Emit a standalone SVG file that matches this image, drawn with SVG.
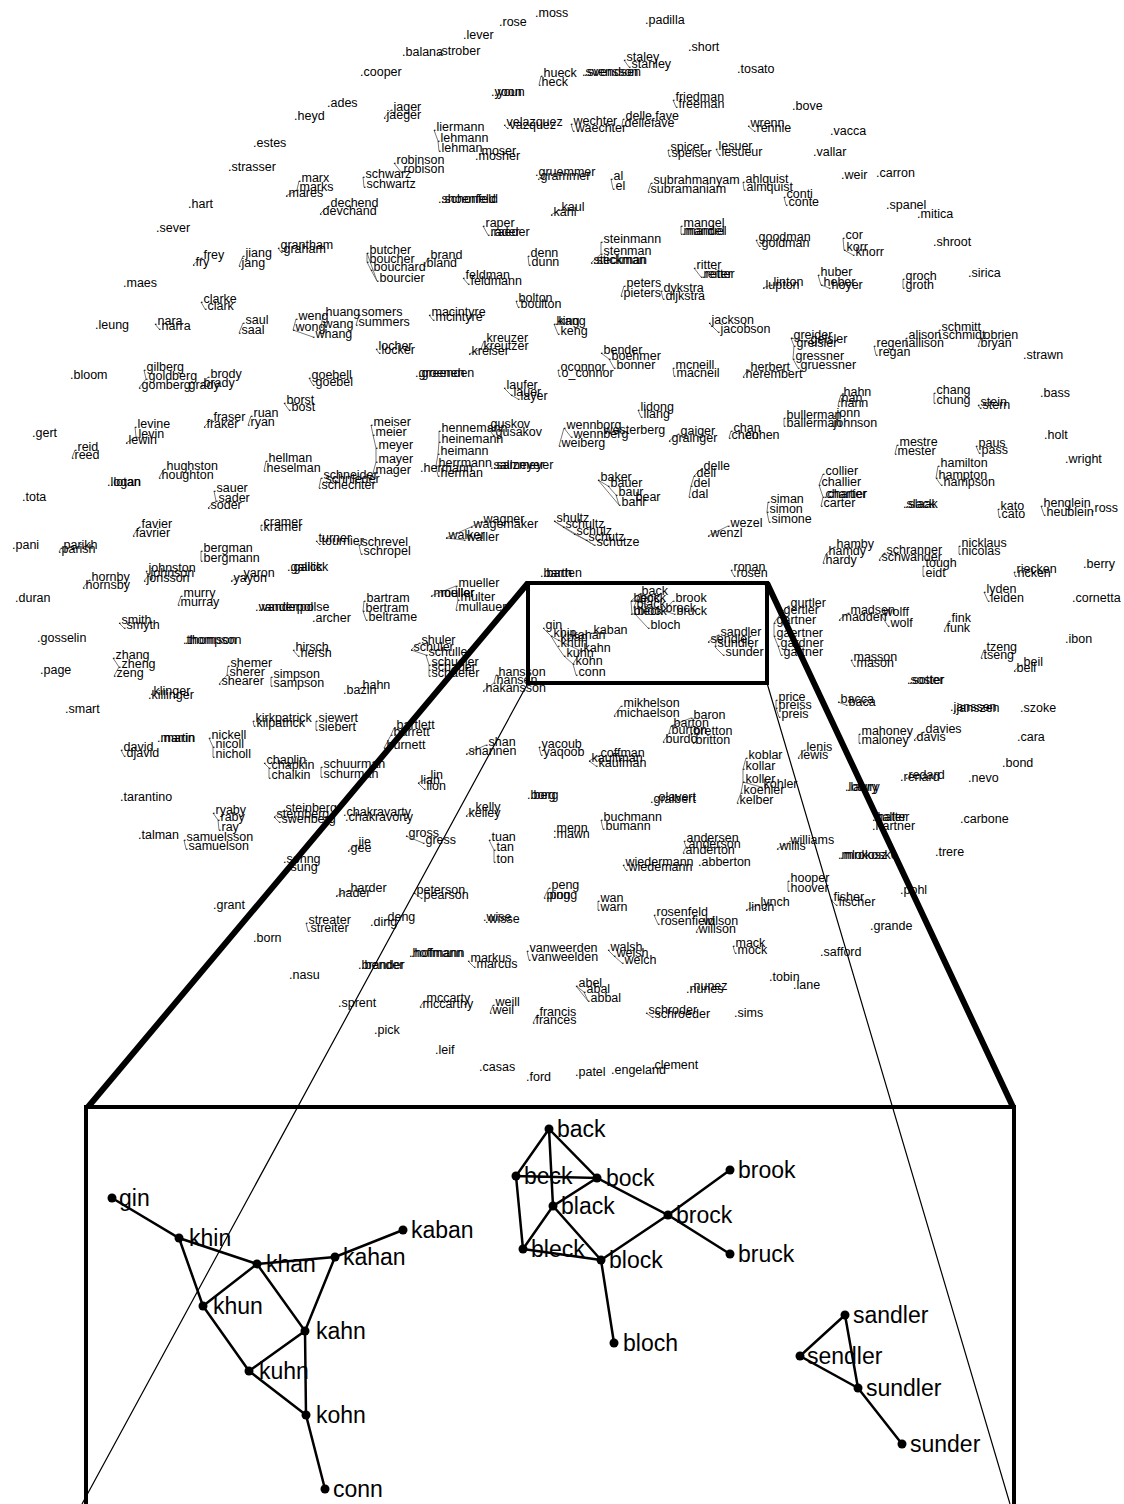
<svg xmlns="http://www.w3.org/2000/svg" width="1124" height="1504" viewBox="0 0 1124 1504">
<style>
.t{font-family:"Liberation Sans",Arial,Helvetica,sans-serif;font-size:12.5px;fill:#000}
.L{font-family:"Liberation Sans",Arial,Helvetica,sans-serif;font-size:23px;fill:#000}
.e{stroke:#555;stroke-width:0.8;fill:none}
.ie{stroke:#000;stroke-width:2.5;fill:none}
.fr{stroke:#000;stroke-width:4;fill:none}
.th{stroke:#000;stroke-width:6;fill:none}
.tn{stroke:#000;stroke-width:1.2;fill:none}
</style>
<rect width="1124" height="1504" fill="#fff"/>
<g id="connectors">
<path class="e" d="M541 76L539 85M624 60L629 67M673 100L676 107M391 110L384 118M434 130L438 141L439 151M394 163L401 172M363 177L364 187M299 181L297 190L286 196M328 206L320 214M483 226L488 235M504 125L507 128M571 124L573 131M623 119L622 126M748 126L754 131M668 150L669 156M716 149L719 155M611 179L613 189M651 183L648 192M743 182L744 190M784 197L786 205M681 226L681 234M559 210L551 215M601 242L601 254L591 263M694 268L701 277M756 240L759 246M843 238L844 250L853 255M818 275L821 285L829 288M903 279L903 288M771 285L763 288M463 278L468 284M624 286L621 296M661 291L663 299M516 301L518 307M528 256L529 265M428 258L424 266M367 253L367 262L371 270L377 281M367 253L377 281M278 248L281 252M243 256L239 266M201 258L193 265M201 302L205 309M155 324L159 329M243 323L239 333M296 319L293 330L313 337M323 315L321 327M359 315L356 325M429 315L433 320M554 324L558 334M709 323L718 332M791 338L794 346L793 359L798 368M791 338L808 342M874 346L876 355M906 338L906 346M939 330L940 338M981 338L978 346M748 370L743 377M484 341L481 349L469 354M376 349L379 353M601 353L609 359L614 368M558 370L559 376M673 368L674 376M504 388L511 395L518 399M638 410L641 417M144 370L146 379L139 388M208 377L201 386M309 378L313 385M284 403L289 410M841 395L839 401L838 406M934 393L934 403M978 405L980 408M784 418L784 426M211 420L204 427M251 416L248 425M135 427L136 437L126 443M75 450L72 458M371 425L373 435L376 448L376 462L373 473M439 431L439 442L438 454L436 466L438 476M488 427L493 435M564 428L571 437M564 428L559 446M678 434L669 441M731 431L729 438M897 445L895 454M976 446L979 453M266 461L264 471M164 469L159 478M701 469L694 476L691 486L689 497M938 466L936 478L941 485M823 474L819 485L823 497L821 506M598 480L608 486L616 495L619 505M598 480L619 505M768 502L767 512L769 522M998 509L999 517M1041 506L1044 515M214 491L216 501L208 508M321 478L319 488M554 521L563 527L574 534L586 540L594 545M554 521L594 545M481 522L471 527L446 538L464 540M728 526L708 536M139 527L133 536M261 525L261 530M316 541L319 544M359 545L361 554M834 547L826 554L823 563M959 546L959 554M61 548L59 552M201 551L201 561M884 553L879 560M923 566L923 576M146 571L148 576L144 581M241 576L231 581M731 570L734 576M1014 572L1015 576M89 580L83 588M456 586L458 600L456 610M431 596L456 586M181 596L178 605M364 601L363 611L366 620M984 592L988 601M788 606L781 613L774 623L774 636L778 646L781 655M848 613L839 620M881 615L888 626M949 621L944 631M119 623L124 628M293 650L298 656M419 643L411 650L426 655L429 665L429 670L429 676M984 650L981 658M113 658L119 667L114 676M851 660L854 666M1021 665L1014 671M228 666L227 675L219 684M496 675L494 683L483 691M271 677L271 686M776 700L776 708L779 717M838 702L846 705M621 706L614 716M691 718L671 726L669 733L663 742M691 734L693 743M253 721L254 726M316 721L316 730M394 728L391 735L384 748M859 734L859 743M923 732L914 740M486 745L466 754M539 747L541 755M598 756L589 761L596 766M804 750L798 758M746 758L743 769L743 782L761 787M743 782L741 793L737 803M209 738L213 747L213 757M121 750L124 756M264 763L269 768L269 778M321 767L321 777M428 778L418 783L424 789M213 813L218 820L219 830M283 811L274 817L279 822M473 810L466 816M601 820L603 829M406 836L423 843M489 840L494 850L494 862M184 840L186 849M684 841L686 847L683 853M788 843L777 849M356 845L348 851M623 865L626 870M788 881L788 891M348 891L336 896M549 888L544 898M414 893L421 898M598 901L598 910M758 905L746 910M831 900L836 905M654 915L658 924M701 924L696 932M306 923L308 931M733 946L735 953M527 951L529 960M608 950L614 956L622 963M468 961L474 967M576 986L584 992L588 1001M576 986L588 1001M424 1001L420 1007M493 1005L490 1013M537 1015L533 1023M646 1013L652 1017M543 628L551 636L558 640M551 636L557 646L564 656L573 664L576 675M558 640L581 651L573 664M639 594L631 601L632 614L635 614M639 594L634 607L635 614M631 601L637 601L664 611L673 601M664 611L674 614M635 614L648 628M708 642L718 635L715 647L723 655"/>
<path class="th" d="M528 583L88 1107M767 583L1013 1107"/>
<path class="tn" d="M528 683L82 1504M767 683L1010 1504"/>
<path class="fr" d="M528 583H767V683H528Z"/>
<path class="fr" d="M86 1520V1107H1014V1520"/>
<path class="ie" d="M112 1198L179 1238L257 1264L335 1257L403 1230M179 1238L203 1306L257 1264L305 1331L335 1257M203 1306L249 1371L305 1331L306 1415L325 1489M249 1371L306 1415M549 1129L516 1176L597 1178L549 1129L553 1206L597 1178L668 1215L730 1170M516 1176L523 1249L553 1206L601 1260L523 1249M601 1260L668 1215L730 1254M601 1260L614 1343M845 1315L800 1356L858 1388L845 1315M858 1388L902 1444"/>
</g>
<g id="scatter">
<text class="t" x="535" y="17">.moss</text>
<text class="t" x="499" y="26">.rose</text>
<text class="t" x="463" y="39">.lever</text>
<text class="t" x="402" y="56">.balana</text>
<text class="t" x="438" y="55">.strober</text>
<text class="t" x="360" y="76">.cooper</text>
<text class="t" x="540" y="77">.hueck</text>
<text class="t" x="538" y="86">.heck</text>
<text class="t" x="582" y="76">.svensson</text>
<text class="t" x="584" y="76">.svendsen</text>
<text class="t" x="491" y="96">.yoon</text>
<text class="t" x="494" y="96">.youn</text>
<text class="t" x="645" y="24">.padilla</text>
<text class="t" x="688" y="51">.short</text>
<text class="t" x="623" y="61">.staley</text>
<text class="t" x="628" y="68">.stanley</text>
<text class="t" x="737" y="73">.tosato</text>
<text class="t" x="672" y="101">.friedman</text>
<text class="t" x="675" y="108">.freeman</text>
<text class="t" x="792" y="110">.bove</text>
<text class="t" x="327" y="107">.ades</text>
<text class="t" x="294" y="120">.heyd</text>
<text class="t" x="390" y="111">.jager</text>
<text class="t" x="383" y="119">.jaeger</text>
<text class="t" x="253" y="147">.estes</text>
<text class="t" x="433" y="131">.liermann</text>
<text class="t" x="437" y="142">.lehmann</text>
<text class="t" x="438" y="152">.lehman</text>
<text class="t" x="478" y="155">.moser</text>
<text class="t" x="475" y="160">.mosher</text>
<text class="t" x="503" y="126">.velazquez</text>
<text class="t" x="506" y="129">.vazquez</text>
<text class="t" x="570" y="125">.wechter</text>
<text class="t" x="572" y="132">.waechter</text>
<text class="t" x="622" y="120">.delle fave</text>
<text class="t" x="621" y="127">.dellefave</text>
<text class="t" x="747" y="127">.wrenn</text>
<text class="t" x="753" y="132">.rennie</text>
<text class="t" x="830" y="135">.vacca</text>
<text class="t" x="667" y="151">.spicer</text>
<text class="t" x="668" y="157">.speiser</text>
<text class="t" x="715" y="150">.lesuer</text>
<text class="t" x="718" y="156">.lesueur</text>
<text class="t" x="813" y="156">.vallar</text>
<text class="t" x="228" y="171">.strasser</text>
<text class="t" x="393" y="164">.robinson</text>
<text class="t" x="400" y="173">.robison</text>
<text class="t" x="362" y="178">.schwarz</text>
<text class="t" x="363" y="188">.schwartz</text>
<text class="t" x="298" y="182">.marx</text>
<text class="t" x="296" y="191">.marks</text>
<text class="t" x="285" y="197">.mares</text>
<text class="t" x="535" y="176">.gruemmer</text>
<text class="t" x="537" y="180">.grammer</text>
<text class="t" x="610" y="180">.al</text>
<text class="t" x="612" y="190">.el</text>
<text class="t" x="650" y="184">.subrahmanyam</text>
<text class="t" x="647" y="193">.subramaniam</text>
<text class="t" x="742" y="183">.ahlquist</text>
<text class="t" x="743" y="191">.almquist</text>
<text class="t" x="841" y="179">.weir</text>
<text class="t" x="876" y="177">.carron</text>
<text class="t" x="783" y="198">.conti</text>
<text class="t" x="785" y="206">.conte</text>
<text class="t" x="327" y="207">.dechend</text>
<text class="t" x="319" y="215">.devchand</text>
<text class="t" x="438" y="203">.shoenfeld</text>
<text class="t" x="441" y="203">.schonfeld</text>
<text class="t" x="558" y="211">.kaul</text>
<text class="t" x="550" y="216">.kahl</text>
<text class="t" x="188" y="208">.hart</text>
<text class="t" x="886" y="209">.spanel</text>
<text class="t" x="917" y="218">.mitica</text>
<text class="t" x="482" y="227">.raper</text>
<text class="t" x="487" y="236">.rader</text>
<text class="t" x="490" y="236">.raeder</text>
<text class="t" x="680" y="227">.mangel</text>
<text class="t" x="680" y="235">.mandel</text>
<text class="t" x="682" y="235">.manuel</text>
<text class="t" x="156" y="232">.sever</text>
<text class="t" x="600" y="243">.steinmann</text>
<text class="t" x="600" y="255">.stenman</text>
<text class="t" x="590" y="264">.steckman</text>
<text class="t" x="593" y="264">.stickman</text>
<text class="t" x="755" y="241">.goodman</text>
<text class="t" x="758" y="247">.goldman</text>
<text class="t" x="842" y="239">.cor</text>
<text class="t" x="843" y="251">.korr</text>
<text class="t" x="852" y="256">.knorr</text>
<text class="t" x="933" y="246">.shroot</text>
<text class="t" x="277" y="249">.grantham</text>
<text class="t" x="280" y="253">.graham</text>
<text class="t" x="242" y="257">.jiang</text>
<text class="t" x="238" y="267">.jang</text>
<text class="t" x="200" y="259">.frey</text>
<text class="t" x="192" y="266">.fry</text>
<text class="t" x="366" y="254">.butcher</text>
<text class="t" x="366" y="263">.boucher</text>
<text class="t" x="370" y="271">.bouchard</text>
<text class="t" x="376" y="282">.bourcier</text>
<text class="t" x="427" y="259">.brand</text>
<text class="t" x="423" y="267">.bland</text>
<text class="t" x="527" y="257">.denn</text>
<text class="t" x="528" y="266">.dunn</text>
<text class="t" x="693" y="269">.ritter</text>
<text class="t" x="700" y="278">.reiter</text>
<text class="t" x="702" y="278">.retter</text>
<text class="t" x="817" y="276">.huber</text>
<text class="t" x="820" y="286">.heber</text>
<text class="t" x="828" y="289">.hoyer</text>
<text class="t" x="902" y="280">.groch</text>
<text class="t" x="902" y="289">.groth</text>
<text class="t" x="968" y="277">.sirica</text>
<text class="t" x="123" y="287">.maes</text>
<text class="t" x="770" y="286">.linton</text>
<text class="t" x="762" y="289">.lupton</text>
<text class="t" x="462" y="279">.feldman</text>
<text class="t" x="467" y="285">.feldmann</text>
<text class="t" x="623" y="287">.peters</text>
<text class="t" x="620" y="297">.pieters</text>
<text class="t" x="660" y="292">.dykstra</text>
<text class="t" x="662" y="300">.dijkstra</text>
<text class="t" x="515" y="302">.bolton</text>
<text class="t" x="517" y="308">.boulton</text>
<text class="t" x="200" y="303">.clarke</text>
<text class="t" x="204" y="310">.clark</text>
<text class="t" x="95" y="329">.leung</text>
<text class="t" x="154" y="325">.nara</text>
<text class="t" x="158" y="330">.narra</text>
<text class="t" x="242" y="324">.saul</text>
<text class="t" x="238" y="334">.saal</text>
<text class="t" x="322" y="316">.huang</text>
<text class="t" x="358" y="316">.somers</text>
<text class="t" x="355" y="326">.summers</text>
<text class="t" x="295" y="320">.weng</text>
<text class="t" x="292" y="331">.wong</text>
<text class="t" x="320" y="328">.wang</text>
<text class="t" x="312" y="338">.whang</text>
<text class="t" x="428" y="316">.macintyre</text>
<text class="t" x="432" y="321">.mcintyre</text>
<text class="t" x="553" y="325">.king</text>
<text class="t" x="555" y="325">.kang</text>
<text class="t" x="557" y="335">.keng</text>
<text class="t" x="708" y="324">.jackson</text>
<text class="t" x="717" y="333">.jacobson</text>
<text class="t" x="938" y="331">.schmitt</text>
<text class="t" x="905" y="339">.alison</text>
<text class="t" x="939" y="339">.schmidt</text>
<text class="t" x="980" y="339">.obrien</text>
<text class="t" x="905" y="347">.allison</text>
<text class="t" x="977" y="347">.bryan</text>
<text class="t" x="873" y="347">.regen</text>
<text class="t" x="875" y="356">.regan</text>
<text class="t" x="790" y="339">.greider</text>
<text class="t" x="807" y="343">.geisler</text>
<text class="t" x="793" y="347">.greisler</text>
<text class="t" x="792" y="360">.gressner</text>
<text class="t" x="797" y="369">.gruessner</text>
<text class="t" x="483" y="342">.kreuzer</text>
<text class="t" x="480" y="350">.kreutzer</text>
<text class="t" x="468" y="355">.kreiser</text>
<text class="t" x="375" y="350">.locher</text>
<text class="t" x="378" y="354">.locker</text>
<text class="t" x="600" y="354">.bender</text>
<text class="t" x="608" y="360">.boehmer</text>
<text class="t" x="613" y="369">.bonner</text>
<text class="t" x="1023" y="359">.strawn</text>
<text class="t" x="557" y="371">.oconnor</text>
<text class="t" x="558" y="377">.o_connor</text>
<text class="t" x="672" y="369">.mcneill</text>
<text class="t" x="673" y="377">.macneil</text>
<text class="t" x="747" y="371">.herbert</text>
<text class="t" x="742" y="378">.herembert</text>
<text class="t" x="415" y="377">.groenen</text>
<text class="t" x="418" y="377">.greenden</text>
<text class="t" x="70" y="379">.bloom</text>
<text class="t" x="143" y="371">.gilberg</text>
<text class="t" x="145" y="380">.goldberg</text>
<text class="t" x="138" y="389">.gomberg</text>
<text class="t" x="185" y="389">.grady</text>
<text class="t" x="207" y="378">.brody</text>
<text class="t" x="200" y="387">.brady</text>
<text class="t" x="308" y="379">.goebell</text>
<text class="t" x="312" y="386">.goebel</text>
<text class="t" x="503" y="389">.laufer</text>
<text class="t" x="510" y="396">.lauer</text>
<text class="t" x="517" y="400">.layer</text>
<text class="t" x="840" y="396">.hahn</text>
<text class="t" x="838" y="402">.han</text>
<text class="t" x="837" y="407">.hann</text>
<text class="t" x="933" y="394">.chang</text>
<text class="t" x="933" y="404">.chung</text>
<text class="t" x="977" y="406">.stein</text>
<text class="t" x="979" y="409">.stern</text>
<text class="t" x="1040" y="397">.bass</text>
<text class="t" x="283" y="404">.borst</text>
<text class="t" x="288" y="411">.bost</text>
<text class="t" x="637" y="411">.lidong</text>
<text class="t" x="640" y="418">.liang</text>
<text class="t" x="783" y="419">.bullerman</text>
<text class="t" x="783" y="427">.ballerman</text>
<text class="t" x="833" y="417">.jonn</text>
<text class="t" x="830" y="427">.johnson</text>
<text class="t" x="210" y="421">.fraser</text>
<text class="t" x="203" y="428">.fraker</text>
<text class="t" x="250" y="417">.ruan</text>
<text class="t" x="247" y="426">.ryan</text>
<text class="t" x="370" y="426">.meiser</text>
<text class="t" x="372" y="436">.meier</text>
<text class="t" x="375" y="449">.meyer</text>
<text class="t" x="375" y="463">.mayer</text>
<text class="t" x="372" y="474">.mager</text>
<text class="t" x="438" y="432">.hennemann</text>
<text class="t" x="438" y="443">.heinemann</text>
<text class="t" x="437" y="455">.heimann</text>
<text class="t" x="435" y="467">.herrmann</text>
<text class="t" x="437" y="477">.herman</text>
<text class="t" x="420" y="472">.hermann</text>
<text class="t" x="487" y="428">.guskov</text>
<text class="t" x="492" y="436">.gusakov</text>
<text class="t" x="563" y="429">.wennborg</text>
<text class="t" x="570" y="438">.wennberg</text>
<text class="t" x="600" y="434">.westerberg</text>
<text class="t" x="558" y="447">.weiberg</text>
<text class="t" x="677" y="435">.gaiger</text>
<text class="t" x="668" y="442">.grainger</text>
<text class="t" x="730" y="432">.chan</text>
<text class="t" x="728" y="439">.chen</text>
<text class="t" x="742" y="439">.cohen</text>
<text class="t" x="134" y="428">.levine</text>
<text class="t" x="135" y="438">.levin</text>
<text class="t" x="125" y="444">.lewin</text>
<text class="t" x="32" y="437">.gert</text>
<text class="t" x="1044" y="439">.holt</text>
<text class="t" x="896" y="446">.mestre</text>
<text class="t" x="894" y="455">.mester</text>
<text class="t" x="975" y="447">.paus</text>
<text class="t" x="978" y="454">.pass</text>
<text class="t" x="74" y="451">.reid</text>
<text class="t" x="71" y="459">.reed</text>
<text class="t" x="1065" y="463">.wright</text>
<text class="t" x="265" y="462">.hellman</text>
<text class="t" x="263" y="472">.heselman</text>
<text class="t" x="163" y="470">.hughston</text>
<text class="t" x="158" y="479">.houghton</text>
<text class="t" x="490" y="469">.salmeyer</text>
<text class="t" x="493" y="469">.salzmeyer</text>
<text class="t" x="700" y="470">.delle</text>
<text class="t" x="693" y="477">.dell</text>
<text class="t" x="690" y="487">.del</text>
<text class="t" x="688" y="498">.dal</text>
<text class="t" x="937" y="467">.hamilton</text>
<text class="t" x="935" y="479">.hampton</text>
<text class="t" x="940" y="486">.hampson</text>
<text class="t" x="822" y="475">.collier</text>
<text class="t" x="818" y="486">.challier</text>
<text class="t" x="822" y="498">.chartier</text>
<text class="t" x="824" y="498">.charter</text>
<text class="t" x="820" y="507">.carter</text>
<text class="t" x="320" y="479">.schneider</text>
<text class="t" x="322" y="483">.schnieder</text>
<text class="t" x="318" y="489">.schechter</text>
<text class="t" x="107" y="486">.logan</text>
<text class="t" x="110" y="486">.lotan</text>
<text class="t" x="597" y="481">.baker</text>
<text class="t" x="607" y="487">.bauer</text>
<text class="t" x="615" y="496">.baur</text>
<text class="t" x="618" y="506">.bahr</text>
<text class="t" x="632" y="501">.bear</text>
<text class="t" x="213" y="492">.sauer</text>
<text class="t" x="215" y="502">.sader</text>
<text class="t" x="207" y="509">.soder</text>
<text class="t" x="22" y="501">.tota</text>
<text class="t" x="767" y="503">.siman</text>
<text class="t" x="766" y="513">.simon</text>
<text class="t" x="768" y="523">.simone</text>
<text class="t" x="903" y="508">.slack</text>
<text class="t" x="905" y="508">.slaak</text>
<text class="t" x="997" y="510">.kato</text>
<text class="t" x="998" y="518">.cato</text>
<text class="t" x="1040" y="507">.henglein</text>
<text class="t" x="1043" y="516">.heublein</text>
<text class="t" x="1091" y="512">.ross</text>
<text class="t" x="553" y="522">.shultz</text>
<text class="t" x="562" y="528">.schultz</text>
<text class="t" x="573" y="535">.schulz</text>
<text class="t" x="585" y="541">.schutz</text>
<text class="t" x="593" y="546">.schutze</text>
<text class="t" x="480" y="523">.wagner</text>
<text class="t" x="470" y="528">.wagemaker</text>
<text class="t" x="445" y="539">.walker</text>
<text class="t" x="463" y="541">.waller</text>
<text class="t" x="727" y="527">.wezel</text>
<text class="t" x="707" y="537">.wenzl</text>
<text class="t" x="138" y="528">.favier</text>
<text class="t" x="132" y="537">.favrier</text>
<text class="t" x="260" y="526">.cramer</text>
<text class="t" x="260" y="531">.kramer</text>
<text class="t" x="315" y="542">.turner</text>
<text class="t" x="318" y="545">.tournier</text>
<text class="t" x="358" y="546">.schrevel</text>
<text class="t" x="360" y="555">.schropel</text>
<text class="t" x="833" y="548">.hamby</text>
<text class="t" x="825" y="555">.hamdy</text>
<text class="t" x="822" y="564">.hardy</text>
<text class="t" x="958" y="547">.nicklaus</text>
<text class="t" x="958" y="555">.nicolas</text>
<text class="t" x="12" y="549">.pani</text>
<text class="t" x="60" y="549">.parikh</text>
<text class="t" x="58" y="553">.parish</text>
<text class="t" x="200" y="552">.bergman</text>
<text class="t" x="200" y="562">.bergmann</text>
<text class="t" x="883" y="554">.schranner</text>
<text class="t" x="878" y="561">.schwander</text>
<text class="t" x="922" y="567">.tough</text>
<text class="t" x="922" y="577">.eidt</text>
<text class="t" x="1083" y="568">.berry</text>
<text class="t" x="287" y="571">.galick</text>
<text class="t" x="290" y="571">.gallick</text>
<text class="t" x="145" y="572">.johnston</text>
<text class="t" x="147" y="577">.johnson</text>
<text class="t" x="143" y="582">.jonsson</text>
<text class="t" x="240" y="577">.yaron</text>
<text class="t" x="230" y="582">.yayon</text>
<text class="t" x="730" y="571">.ronan</text>
<text class="t" x="733" y="577">.rosen</text>
<text class="t" x="540" y="577">.barth</text>
<text class="t" x="543" y="577">.barten</text>
<text class="t" x="1013" y="573">.riecken</text>
<text class="t" x="1014" y="577">.ricken</text>
<text class="t" x="88" y="581">.hornby</text>
<text class="t" x="82" y="589">.hornsby</text>
<text class="t" x="455" y="587">.mueller</text>
<text class="t" x="430" y="597">.moeller</text>
<text class="t" x="437" y="597">.muller</text>
<text class="t" x="457" y="601">.multer</text>
<text class="t" x="455" y="611">.mullauer</text>
<text class="t" x="180" y="597">.murry</text>
<text class="t" x="177" y="606">.murray</text>
<text class="t" x="15" y="602">.duran</text>
<text class="t" x="363" y="602">.bartram</text>
<text class="t" x="362" y="612">.bertram</text>
<text class="t" x="365" y="621">.beltrame</text>
<text class="t" x="312" y="622">.archer</text>
<text class="t" x="983" y="593">.lyden</text>
<text class="t" x="987" y="602">.leiden</text>
<text class="t" x="1072" y="602">.cornetta</text>
<text class="t" x="787" y="607">.gurtler</text>
<text class="t" x="780" y="614">.gertler</text>
<text class="t" x="773" y="624">.gartner</text>
<text class="t" x="773" y="637">.gaertner</text>
<text class="t" x="777" y="647">.gardner</text>
<text class="t" x="780" y="656">.gartner</text>
<text class="t" x="255" y="611">.vanderpol</text>
<text class="t" x="258" y="611">.vanderpolse</text>
<text class="t" x="847" y="614">.madsen</text>
<text class="t" x="838" y="621">.madden</text>
<text class="t" x="880" y="616">.wolff</text>
<text class="t" x="887" y="627">.wolf</text>
<text class="t" x="948" y="622">.fink</text>
<text class="t" x="943" y="632">.funk</text>
<text class="t" x="118" y="624">.smith</text>
<text class="t" x="123" y="629">.smyth</text>
<text class="t" x="37" y="642">.gosselin</text>
<text class="t" x="183" y="644">.thompson</text>
<text class="t" x="185" y="644">.thomson</text>
<text class="t" x="1065" y="643">.ibon</text>
<text class="t" x="292" y="651">.hirsch</text>
<text class="t" x="297" y="657">.hersh</text>
<text class="t" x="418" y="644">.shuler</text>
<text class="t" x="410" y="651">.schuler</text>
<text class="t" x="425" y="656">.schuller</text>
<text class="t" x="428" y="666">.schueler</text>
<text class="t" x="428" y="671">.schauer</text>
<text class="t" x="428" y="677">.schaefer</text>
<text class="t" x="983" y="651">.tzeng</text>
<text class="t" x="980" y="659">.tseng</text>
<text class="t" x="112" y="659">.zhang</text>
<text class="t" x="118" y="668">.zheng</text>
<text class="t" x="113" y="677">.zeng</text>
<text class="t" x="850" y="661">.masson</text>
<text class="t" x="853" y="667">.mason</text>
<text class="t" x="1020" y="666">.beil</text>
<text class="t" x="1013" y="672">.bell</text>
<text class="t" x="227" y="667">.shemer</text>
<text class="t" x="226" y="676">.sherer</text>
<text class="t" x="218" y="685">.shearer</text>
<text class="t" x="40" y="674">.page</text>
<text class="t" x="495" y="676">.hansson</text>
<text class="t" x="493" y="684">.hansen</text>
<text class="t" x="482" y="692">.hakansson</text>
<text class="t" x="270" y="678">.simpson</text>
<text class="t" x="270" y="687">.sampson</text>
<text class="t" x="907" y="684">.soster</text>
<text class="t" x="909" y="684">.sotter</text>
<text class="t" x="359" y="689">.hahn</text>
<text class="t" x="343" y="694">.bazin</text>
<text class="t" x="150" y="695">.klinger</text>
<text class="t" x="148" y="699">.killinger</text>
<text class="t" x="775" y="701">.price</text>
<text class="t" x="775" y="709">.preiss</text>
<text class="t" x="778" y="718">.preis</text>
<text class="t" x="837" y="703">.bacca</text>
<text class="t" x="845" y="706">.baca</text>
<text class="t" x="950" y="711">.janssen</text>
<text class="t" x="953" y="712">.janszen</text>
<text class="t" x="1020" y="712">.szoke</text>
<text class="t" x="620" y="707">.mikhelson</text>
<text class="t" x="613" y="717">.michaelson</text>
<text class="t" x="690" y="719">.baron</text>
<text class="t" x="670" y="727">.barton</text>
<text class="t" x="668" y="734">.burton</text>
<text class="t" x="690" y="735">.bretton</text>
<text class="t" x="662" y="743">.burdo</text>
<text class="t" x="692" y="744">.britton</text>
<text class="t" x="65" y="713">.smart</text>
<text class="t" x="252" y="722">.kirkpatrick</text>
<text class="t" x="253" y="727">.kilpatrick</text>
<text class="t" x="315" y="722">.siewert</text>
<text class="t" x="315" y="731">.siebert</text>
<text class="t" x="393" y="729">.bartlett</text>
<text class="t" x="390" y="736">.barrett</text>
<text class="t" x="383" y="749">.burnett</text>
<text class="t" x="858" y="735">.mahoney</text>
<text class="t" x="858" y="744">.maloney</text>
<text class="t" x="922" y="733">.davies</text>
<text class="t" x="913" y="741">.davis</text>
<text class="t" x="1017" y="741">.cara</text>
<text class="t" x="157" y="742">.martin</text>
<text class="t" x="160" y="742">.marin</text>
<text class="t" x="208" y="739">.nickell</text>
<text class="t" x="212" y="748">.nicoll</text>
<text class="t" x="212" y="758">.nicholl</text>
<text class="t" x="485" y="746">.shan</text>
<text class="t" x="465" y="755">.shannen</text>
<text class="t" x="538" y="748">.yacoub</text>
<text class="t" x="540" y="756">.yaqoob</text>
<text class="t" x="597" y="757">.coffman</text>
<text class="t" x="588" y="762">.kauffman</text>
<text class="t" x="595" y="767">.kaufman</text>
<text class="t" x="803" y="751">.lenis</text>
<text class="t" x="797" y="759">.lewis</text>
<text class="t" x="745" y="759">.koblar</text>
<text class="t" x="742" y="770">.kollar</text>
<text class="t" x="742" y="783">.koller</text>
<text class="t" x="760" y="788">.kohler</text>
<text class="t" x="740" y="794">.koehler</text>
<text class="t" x="736" y="804">.kelber</text>
<text class="t" x="120" y="751">.david</text>
<text class="t" x="123" y="757">.djavid</text>
<text class="t" x="263" y="764">.chaplin</text>
<text class="t" x="268" y="769">.chapkin</text>
<text class="t" x="268" y="779">.chaikin</text>
<text class="t" x="320" y="768">.schuurman</text>
<text class="t" x="320" y="778">.schurman</text>
<text class="t" x="1002" y="767">.bond</text>
<text class="t" x="427" y="779">.lin</text>
<text class="t" x="417" y="784">.lian</text>
<text class="t" x="423" y="790">.lion</text>
<text class="t" x="900" y="781">.renard</text>
<text class="t" x="905" y="779">.redard</text>
<text class="t" x="968" y="782">.nevo</text>
<text class="t" x="845" y="791">.lowry</text>
<text class="t" x="847" y="791">.lawry</text>
<text class="t" x="527" y="799">.borg</text>
<text class="t" x="530" y="799">.berg</text>
<text class="t" x="120" y="801">.tarantino</text>
<text class="t" x="655" y="801">.olavert</text>
<text class="t" x="650" y="803">.gralbert</text>
<text class="t" x="212" y="814">.ryaby</text>
<text class="t" x="217" y="821">.raby</text>
<text class="t" x="218" y="831">.ray</text>
<text class="t" x="282" y="812">.steinberg</text>
<text class="t" x="273" y="818">.sternberg</text>
<text class="t" x="278" y="823">.swenberg</text>
<text class="t" x="343" y="816">.chakravarty</text>
<text class="t" x="345" y="821">.chakravorty</text>
<text class="t" x="472" y="811">.kelly</text>
<text class="t" x="465" y="817">.kelley</text>
<text class="t" x="600" y="821">.buchmann</text>
<text class="t" x="602" y="830">.bumann</text>
<text class="t" x="872" y="821">.haller</text>
<text class="t" x="874" y="821">.hatter</text>
<text class="t" x="872" y="830">.hartner</text>
<text class="t" x="960" y="823">.carbone</text>
<text class="t" x="553" y="832">.menn</text>
<text class="t" x="553" y="838">.mawn</text>
<text class="t" x="405" y="837">.gross</text>
<text class="t" x="422" y="844">.gress</text>
<text class="t" x="488" y="841">.tuan</text>
<text class="t" x="493" y="851">.tan</text>
<text class="t" x="493" y="863">.ton</text>
<text class="t" x="138" y="839">.talman</text>
<text class="t" x="183" y="841">.samuelsson</text>
<text class="t" x="185" y="850">.samuelson</text>
<text class="t" x="683" y="842">.andersen</text>
<text class="t" x="685" y="848">.anderson</text>
<text class="t" x="682" y="854">.anderton</text>
<text class="t" x="698" y="866">.abberton</text>
<text class="t" x="787" y="844">.williams</text>
<text class="t" x="776" y="850">.willis</text>
<text class="t" x="355" y="846">.jie</text>
<text class="t" x="347" y="852">.gee</text>
<text class="t" x="935" y="856">.trere</text>
<text class="t" x="838" y="859">.mlokosz</text>
<text class="t" x="840" y="859">.mrokoske</text>
<text class="t" x="622" y="866">.wiedermann</text>
<text class="t" x="625" y="871">.wiedemann</text>
<text class="t" x="283" y="863">.sohng</text>
<text class="t" x="287" y="871">.sung</text>
<text class="t" x="787" y="882">.hooper</text>
<text class="t" x="787" y="892">.hoover</text>
<text class="t" x="347" y="892">.harder</text>
<text class="t" x="335" y="897">.hader</text>
<text class="t" x="548" y="889">.peng</text>
<text class="t" x="543" y="899">.ping</text>
<text class="t" x="546" y="899">.pong</text>
<text class="t" x="900" y="894">.pohl</text>
<text class="t" x="413" y="894">.peterson</text>
<text class="t" x="420" y="899">.pearson</text>
<text class="t" x="597" y="902">.wan</text>
<text class="t" x="597" y="911">.warn</text>
<text class="t" x="757" y="906">.lynch</text>
<text class="t" x="745" y="911">.linch</text>
<text class="t" x="830" y="901">.fisher</text>
<text class="t" x="835" y="906">.fischer</text>
<text class="t" x="213" y="909">.grant</text>
<text class="t" x="653" y="916">.rosenfeld</text>
<text class="t" x="657" y="925">.rosenfield</text>
<text class="t" x="700" y="925">.wilson</text>
<text class="t" x="695" y="933">.willson</text>
<text class="t" x="384" y="921">.deng</text>
<text class="t" x="370" y="926">.ding</text>
<text class="t" x="483" y="921">.wise</text>
<text class="t" x="485" y="923">.wisse</text>
<text class="t" x="305" y="924">.streater</text>
<text class="t" x="307" y="932">.streiter</text>
<text class="t" x="870" y="930">.grande</text>
<text class="t" x="253" y="942">.born</text>
<text class="t" x="732" y="947">.mack</text>
<text class="t" x="734" y="954">.mock</text>
<text class="t" x="526" y="952">.vanweerden</text>
<text class="t" x="528" y="961">.vanweelden</text>
<text class="t" x="607" y="951">.walsh</text>
<text class="t" x="613" y="957">.welsh</text>
<text class="t" x="621" y="964">.welch</text>
<text class="t" x="820" y="956">.safford</text>
<text class="t" x="409" y="957">.hoffmann</text>
<text class="t" x="411" y="957">.hofmann</text>
<text class="t" x="467" y="962">.markus</text>
<text class="t" x="473" y="968">.marcus</text>
<text class="t" x="358" y="969">.brander</text>
<text class="t" x="361" y="969">.bender</text>
<text class="t" x="289" y="979">.nasu</text>
<text class="t" x="769" y="981">.tobin</text>
<text class="t" x="793" y="989">.lane</text>
<text class="t" x="575" y="987">.abel</text>
<text class="t" x="583" y="993">.abal</text>
<text class="t" x="587" y="1002">.abbal</text>
<text class="t" x="690" y="990">.nunez</text>
<text class="t" x="686" y="993">.nunes</text>
<text class="t" x="338" y="1007">.sprent</text>
<text class="t" x="423" y="1002">.mccarty</text>
<text class="t" x="419" y="1008">.mccarthy</text>
<text class="t" x="492" y="1006">.weill</text>
<text class="t" x="489" y="1014">.weil</text>
<text class="t" x="536" y="1016">.francis</text>
<text class="t" x="532" y="1024">.frances</text>
<text class="t" x="645" y="1014">.schroder</text>
<text class="t" x="651" y="1018">.schroeder</text>
<text class="t" x="734" y="1017">.sims</text>
<text class="t" x="374" y="1034">.pick</text>
<text class="t" x="435" y="1054">.leif</text>
<text class="t" x="479" y="1071">.casas</text>
<text class="t" x="526" y="1081">.ford</text>
<text class="t" x="575" y="1076">.patel</text>
<text class="t" x="611" y="1074">.engeland</text>
<text class="t" x="651" y="1069">.clement</text>
<text class="t" x="542" y="629">.gin</text>
<text class="t" x="550" y="637">.khin</text>
<text class="t" x="557" y="641">.khan</text>
<text class="t" x="568" y="639">.kahan</text>
<text class="t" x="590" y="634">.kaban</text>
<text class="t" x="557" y="647">.khun</text>
<text class="t" x="580" y="652">.kahn</text>
<text class="t" x="563" y="657">.kuhn</text>
<text class="t" x="572" y="665">.kohn</text>
<text class="t" x="575" y="676">.conn</text>
<text class="t" x="638" y="595">.back</text>
<text class="t" x="630" y="602">.beck</text>
<text class="t" x="636" y="602">.bock</text>
<text class="t" x="672" y="602">.brook</text>
<text class="t" x="633" y="608">.black</text>
<text class="t" x="662" y="612">.brock</text>
<text class="t" x="630" y="615">.bleck</text>
<text class="t" x="634" y="615">.block</text>
<text class="t" x="673" y="615">.bruck</text>
<text class="t" x="647" y="629">.bloch</text>
<text class="t" x="717" y="636">.sandler</text>
<text class="t" x="707" y="643">.sendler</text>
<text class="t" x="714" y="647">.sundler</text>
<text class="t" x="722" y="656">.sunder</text>
</g>
<g id="inset">
<g id="n-gin"><circle cx="112" cy="1198" r="4.5"/><text class="L" x="119" y="1206">gin</text></g>
<g id="n-khin"><circle cx="179" cy="1238" r="4.5"/><text class="L" x="189" y="1246">khin</text></g>
<g id="n-khan"><circle cx="257" cy="1264" r="4.5"/><text class="L" x="266" y="1272">khan</text></g>
<g id="n-kahan"><circle cx="335" cy="1257" r="4.5"/><text class="L" x="343" y="1265">kahan</text></g>
<g id="n-kaban"><circle cx="403" cy="1230" r="4.5"/><text class="L" x="411" y="1238">kaban</text></g>
<g id="n-khun"><circle cx="203" cy="1306" r="4.5"/><text class="L" x="213" y="1314">khun</text></g>
<g id="n-kahn"><circle cx="305" cy="1331" r="4.5"/><text class="L" x="316" y="1339">kahn</text></g>
<g id="n-kuhn"><circle cx="249" cy="1371" r="4.5"/><text class="L" x="259" y="1379">kuhn</text></g>
<g id="n-kohn"><circle cx="306" cy="1415" r="4.5"/><text class="L" x="316" y="1423">kohn</text></g>
<g id="n-conn"><circle cx="325" cy="1489" r="4.5"/><text class="L" x="333" y="1497">conn</text></g>
<g id="n-back"><circle cx="549" cy="1129" r="4.5"/><text class="L" x="557" y="1137">back</text></g>
<g id="n-beck"><circle cx="516" cy="1176" r="4.5"/><text class="L" x="524" y="1184">beck</text></g>
<g id="n-bock"><circle cx="597" cy="1178" r="4.5"/><text class="L" x="606" y="1186">bock</text></g>
<g id="n-black"><circle cx="553" cy="1206" r="4.5"/><text class="L" x="561" y="1214">black</text></g>
<g id="n-brook"><circle cx="730" cy="1170" r="4.5"/><text class="L" x="738" y="1178">brook</text></g>
<g id="n-brock"><circle cx="668" cy="1215" r="4.5"/><text class="L" x="676" y="1223">brock</text></g>
<g id="n-bleck"><circle cx="523" cy="1249" r="4.5"/><text class="L" x="531" y="1257">bleck</text></g>
<g id="n-block"><circle cx="601" cy="1260" r="4.5"/><text class="L" x="609" y="1268">block</text></g>
<g id="n-bruck"><circle cx="730" cy="1254" r="4.5"/><text class="L" x="738" y="1262">bruck</text></g>
<g id="n-bloch"><circle cx="614" cy="1343" r="4.5"/><text class="L" x="623" y="1351">bloch</text></g>
<g id="n-sandler"><circle cx="845" cy="1315" r="4.5"/><text class="L" x="853" y="1323">sandler</text></g>
<g id="n-sendler"><circle cx="800" cy="1356" r="4.5"/><text class="L" x="807" y="1364">sendler</text></g>
<g id="n-sundler"><circle cx="858" cy="1388" r="4.5"/><text class="L" x="866" y="1396">sundler</text></g>
<g id="n-sunder"><circle cx="902" cy="1444" r="4.5"/><text class="L" x="910" y="1452">sunder</text></g>
</g>
</svg>
